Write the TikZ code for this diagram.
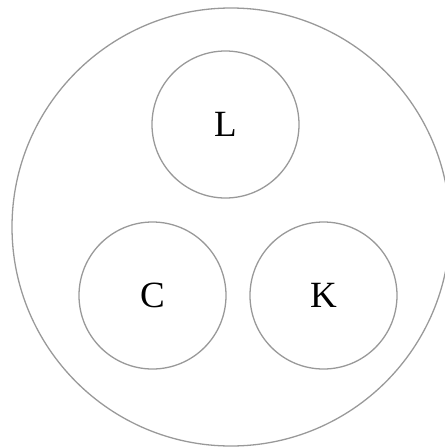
\documentclass[tikz,border=0pt]{standalone}
\usepackage{fontspec}
\setmainfont{Liberation Serif}
\usepackage{tikz}

\begin{document}
\begin{tikzpicture}[x=1pt, y=-1pt,
  set/.style={draw=gray!80, line width=1.3pt, circle, inner sep=0pt, font=\fontsize{37}{37}\selectfont}]
\useasboundingbox (0,0) rectangle (445,448);
\node[set, minimum size=438pt] (u) at (231,227) {};
\node[set, minimum size=147pt] (l) at (225.5,124.5) {L};
\node[set, minimum size=147pt] (c) at (152.5,295.5) {C};
\node[set, minimum size=147pt] (k) at (323.5,295.5) {K};
\end{tikzpicture}
\end{document}
